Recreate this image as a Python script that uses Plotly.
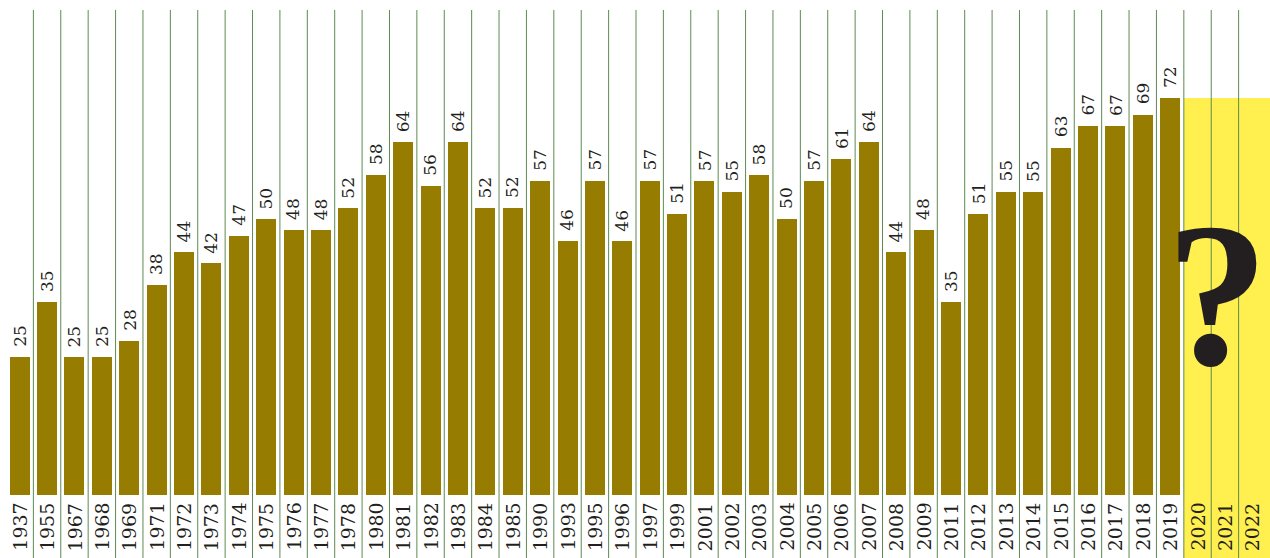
import plotly.graph_objects as go

years = ["1937", "1955", "1967", "1968", "1969", "1971", "1972", "1973", "1974", "1975",
         "1976", "1977", "1978", "1980", "1981", "1982", "1983", "1984", "1985", "1990",
         "1993", "1995", "1996", "1997", "1999", "2001", "2002", "2003", "2004", "2005",
         "2006", "2007", "2008", "2009", "2011", "2012", "2013", "2014", "2015", "2016",
         "2017", "2018", "2019", "2020", "2021", "2022"]
values = [25, 35, 25, 25, 28, 38, 44, 42, 47, 50,
          48, 48, 52, 58, 64, 56, 64, 52, 52, 57,
          46, 57, 46, 57, 51, 57, 55, 58, 50, 57,
          61, 64, 44, 48, 35, 51, 55, 55, 63, 67,
          67, 69, 72]
future_years = ["2020", "2021", "2022"]
unknown_mark = "?"

BAR_COLOR = "#967c00"
LINE_COLOR = "#5e8a52"
YELLOW = "#fff04f"
TEXT_COLOR = "#231f20"
FONT = "DejaVu Serif"

n = len(years)
known = years[:len(values)]
COL_PX = 1260 / n

fig = go.Figure()
fig.add_trace(go.Bar(
    x=known, y=values, width=0.73, marker=dict(color=BAR_COLOR, line=dict(width=0)),
    hoverinfo="skip", showlegend=False,
))

YMAX = 89.77
YMIN = -11.43
XMAX = n - 0.5 + 4 / COL_PX

shapes = []
first_future = years.index(future_years[0])
shapes.append(dict(type="rect", xref="x", yref="y", layer="below",
                   x0=first_future - 0.5, x1=XMAX, y0=YMIN, y1=max(values),
                   fillcolor=YELLOW, line=dict(width=0)))
for i in range(n - 1):
    shapes.append(dict(type="line", xref="x", yref="y", layer="below",
                       x0=i + 0.5, x1=i + 0.5, y0=YMIN, y1=YMAX - 10 / 5.514,
                       line=dict(color=LINE_COLOR, width=1)))

annotations = []
for i, v in enumerate(values):
    annotations.append(dict(x=i, y=v, xref="x", yref="y", text=str(v), showarrow=False,
                            textangle=-90, xanchor="center", yanchor="bottom", yshift=8,
                            font=dict(family=FONT, size=17, color=TEXT_COLOR)))
for i, yr in enumerate(years):
    annotations.append(dict(x=i, y=0, xref="x", yref="y", text=yr, showarrow=False,
                            textangle=-90, xanchor="center", yanchor="top", yshift=-6,
                            font=dict(family=FONT, size=19, color=TEXT_COLOR)))
annotations.append(dict(x=1, y=36.3, xref="paper", yref="y",
                        text="<b>" + unknown_mark + "</b>", showarrow=False,
                        xanchor="right", yanchor="middle", borderpad=0,
                        font=dict(family="Liberation Serif", size=205, color=TEXT_COLOR)))

fig.update_layout(
    width=1270, height=558,
    margin=dict(l=6, r=0, t=0, b=0, pad=0),
    paper_bgcolor="white", plot_bgcolor="white",
    bargap=0,
    xaxis=dict(type="category", categoryorder="array", categoryarray=years,
               range=[-0.5, XMAX], showticklabels=False, showgrid=False,
               zeroline=False, showline=False, ticks=""),
    yaxis=dict(range=[YMIN, YMAX], showticklabels=False, showgrid=False,
               zeroline=False, showline=False, ticks=""),
    shapes=shapes, annotations=annotations,
)

fig.write_html("out.html")
